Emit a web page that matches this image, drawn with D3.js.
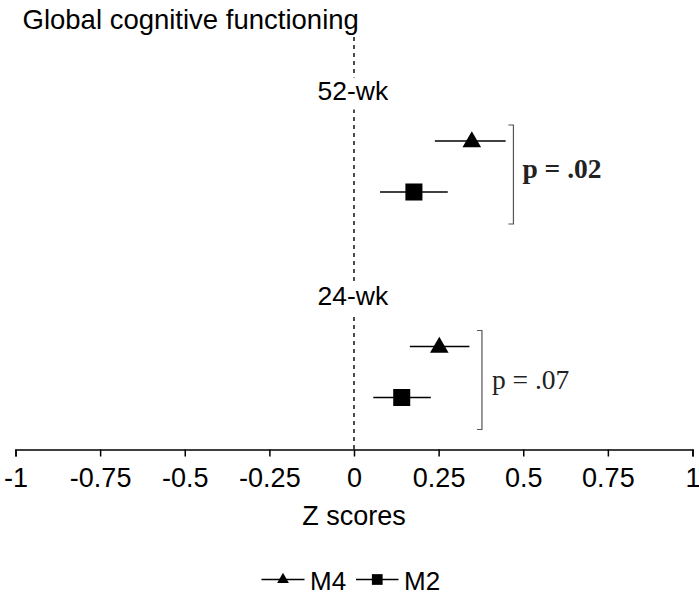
<!DOCTYPE html>
<html>
<head>
<meta charset="utf-8">
<script src="https://cdn.jsdelivr.net/npm/d3@7"></script>
<style>
  html, body { margin: 0; padding: 0; background: #fff; }
  svg { display: block; }
</style>
</head>
<body>
<svg id="chart" width="699" height="594"></svg>
<script>
// ---- data ----
const timepoints = ["52-wk", "24-wk"];
const seriesNames = ["M4", "M2"];
const m4Mean  = [0.348, 0.252];
const m4Lower = [0.239, 0.165];
const m4Upper = [0.448, 0.341];
const m2Mean  = [0.177, 0.141];
const m2Lower = [0.077, 0.057];
const m2Upper = [0.277, 0.227];
const pLabels = ["p = .02", "p = .07"];
const pBold   = [true, false];
const bracketX = [0.471, 0.378];
const xTicks = [-1, -0.75, -0.5, -0.25, 0, 0.25, 0.5, 0.75, 1];
const titleText = "Global cognitive functioning";
const xLabel = "Z scores";

const sans = "'Liberation Sans', Arial, sans-serif";
const serif = "'Liberation Serif', 'Times New Roman', serif";

const svg = d3.select("#chart");

const x = d3.scaleLinear().domain([-1, 1]).range([15.5, 692.5]);
const yGroup = d3.scaleBand().domain(timepoints).range([63.75, 474.75]).padding(0);
const ySeries = d3.scalePoint().domain(seriesNames).range([-25.5, 25.5]);
const yc = t => yGroup(t) + yGroup.bandwidth() / 2;
const axisY = 449.5;

const rows = [];
timepoints.forEach((t, i) => {
  rows.push({ t, s: "M4", mean: m4Mean[i], lo: m4Lower[i], hi: m4Upper[i] });
  rows.push({ t, s: "M2", mean: m2Mean[i], lo: m2Lower[i], hi: m2Upper[i] });
});

// title
svg.append("text").attr("x", 22.5).attr("y", 29)
  .attr("font-family", sans).attr("font-size", 27.5).attr("fill", "#000")
  .text(titleText);

// dashed zero line
svg.append("line")
  .attr("x1", x(0)).attr("x2", x(0)).attr("y1", 37).attr("y2", axisY)
  .attr("stroke", "#000").attr("stroke-width", 1.4).attr("stroke-dasharray", "4,4");

// timepoint labels (with white background covering the dashed line)
timepoints.forEach(t => {
  const g = svg.append("g");
  const txt = g.append("text").attr("x", 317.5).attr("y", yc(t) - 67)
    .attr("font-family", sans).attr("font-size", 26.5).attr("fill", "#000").text(t);
  const bb = txt.node().getBBox();
  g.insert("rect", "text").attr("x", bb.x - 1).attr("y", bb.y + 2)
    .attr("width", bb.width + 2).attr("height", bb.height + 2).attr("fill", "#fff");
});

// x axis
const axis = d3.axisBottom(x).tickValues(xTicks).tickSize(7).tickPadding(11)
  .tickFormat(d => String(d));
const ax = svg.append("g").attr("transform", `translate(0,${axisY})`).call(axis);
ax.select(".domain").attr("stroke", "#000").attr("stroke-width", 1.5);
ax.selectAll(".tick line").attr("stroke", "#000").attr("stroke-width", 1.5);
ax.selectAll(".tick text").attr("font-family", sans).attr("font-size", 27)
  .attr("fill", "#000").attr("dy", "0.71em");

svg.append("text").attr("x", x(0)).attr("y", 525).attr("text-anchor", "middle")
  .attr("font-family", sans).attr("font-size", 27).attr("fill", "#000").text(xLabel);

// error bars
svg.append("g").selectAll("line").data(rows).join("line")
  .attr("x1", d => x(d.lo)).attr("x2", d => x(d.hi))
  .attr("y1", d => yc(d.t) + ySeries(d.s)).attr("y2", d => yc(d.t) + ySeries(d.s))
  .attr("stroke", "#000").attr("stroke-width", 1.4);

// markers
const triPath = d3.symbol().type(d3.symbolTriangle).size(150)();
const sqPath = d3.symbol().type(d3.symbolSquare).size(290)();
svg.append("g").selectAll("path").data(rows).join("path")
  .attr("transform", d => `translate(${x(d.mean)},${yc(d.t) + ySeries(d.s) + (d.s === "M4" ? 1 : 0)})`)
  .attr("d", d => d.s === "M4" ? triPath : sqPath)
  .attr("fill", "#000");

// brackets and p-values
timepoints.forEach((t, i) => {
  const bx = x(bracketX[i]);
  const top = yc(t) - 41.5, bot = yc(t) + 57.5;
  svg.append("path")
    .attr("d", `M${bx - 5},${top} L${bx},${top} L${bx},${bot} L${bx - 5},${bot}`)
    .attr("fill", "none").attr("stroke", "#555").attr("stroke-width", 1.2);
  svg.append("text").attr("x", bx + (pBold[i] ? 9 : 10)).attr("y", yc(t) + (pBold[i] ? 11.5 : 17))
    .attr("font-family", serif).attr("font-size", 27.5)
    .attr("font-weight", pBold[i] ? "bold" : "normal").attr("fill", "#222")
    .text(pLabels[i]);
});

// legend
const legendY = 579.5;
const legendItems = [
  { name: "M4", x0: 261.5, x1: 304.5, path: d3.symbol().type(d3.symbolTriangle).size(60)() },
  { name: "M2", x0: 356, x1: 398.5, path: d3.symbol().type(d3.symbolSquare).size(115)() }
];
const lg = svg.append("g");
legendItems.forEach(it => {
  lg.append("line").attr("x1", it.x0).attr("x2", it.x1).attr("y1", legendY).attr("y2", legendY)
    .attr("stroke", "#000").attr("stroke-width", 1.4);
  lg.append("path").attr("d", it.path)
    .attr("transform", `translate(${(it.x0 + it.x1) / 2},${legendY})`).attr("fill", "#000");
  lg.append("text").attr("x", it.x1 + 5.5).attr("y", 590)
    .attr("font-family", sans).attr("font-size", 26).attr("fill", "#000").text(it.name);
});
</script>
</body>
</html>
